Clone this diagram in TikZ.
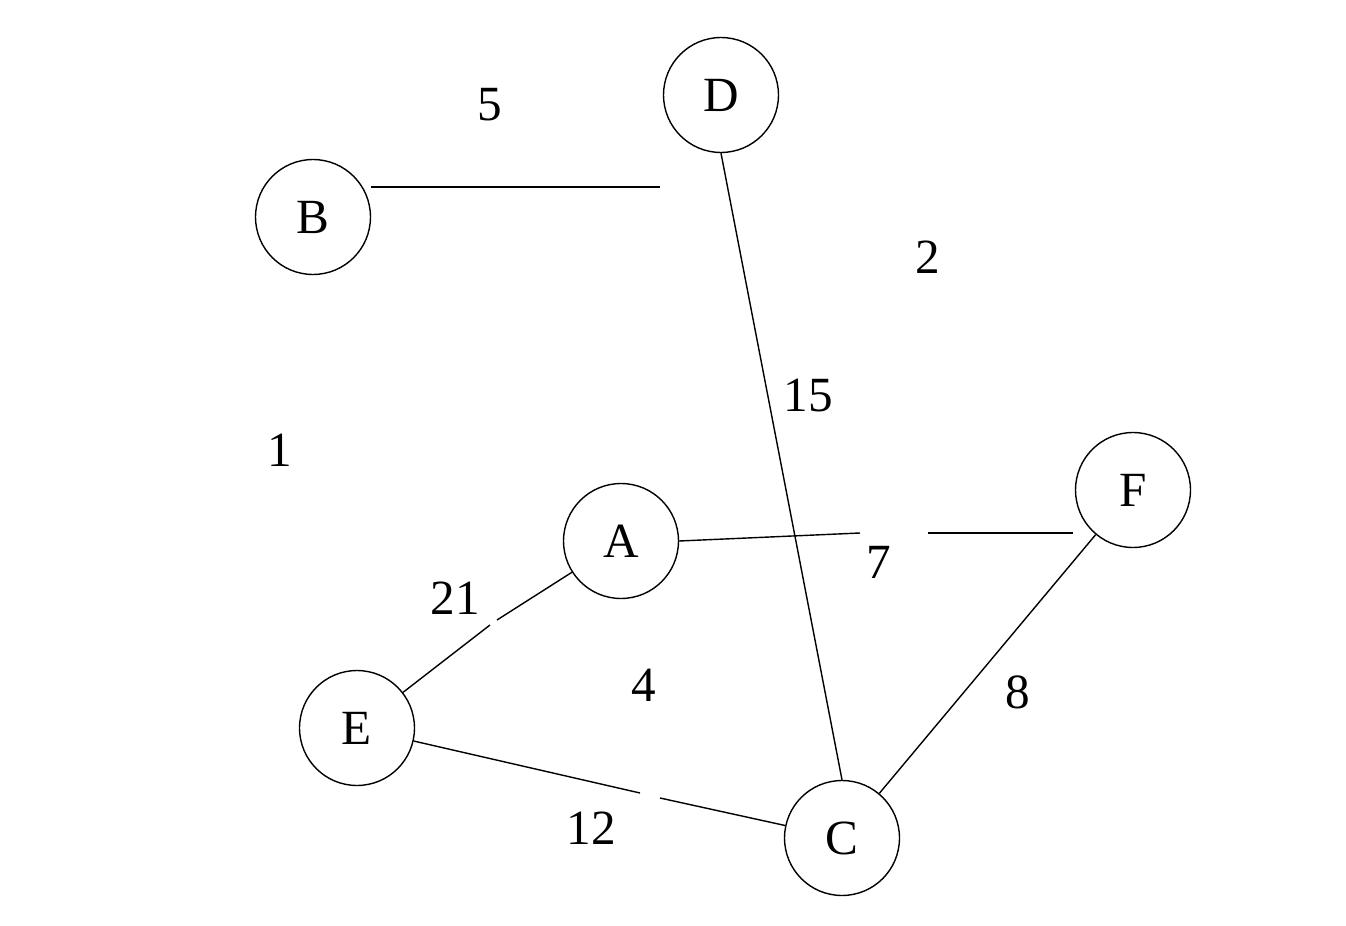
\documentclass[tikz,border=0pt]{standalone}
\usepackage{fontspec}
\setmainfont{Liberation Serif}
\tikzset{vertex/.style = {draw, circle, thick, minimum size=2.3cm, inner sep=0pt, font=\fontsize{28}{30}\selectfont}}
\tikzset{lab/.style = {font=\fontsize{28}{30}\selectfont}}
\tikzset{edge/.style = {thick}}

\begin{document}
\begin{tikzpicture}[x=0.02cm, y=-0.02cm]
\useasboundingbox (0,0) rectangle (1346,926);

\node[vertex] (D) at (721,95) {D};
\node[vertex] (B) at (313,217) {B};
\node[vertex] (A) at (621,541) {A};
\node[vertex] (F) at (1133,490) {F};
\node[vertex] (E) at (357,728) {E};
\node[vertex] (C) at (842,838) {C};

% free ends where the edges break off
\coordinate (bd1) at (371,187);
\coordinate (bd2) at (660,187);
\coordinate (af1) at (860,533);
\coordinate (af2) at (928,533);
\coordinate (fa) at (1073,533);
\coordinate (ea1) at (490,625);
\coordinate (ea2) at (497,620);
\coordinate (ec1) at (640,793);
\coordinate (ec2) at (660,798);

\draw[edge] (bd1) -- (bd2);
\draw[edge] (D.south) -- (C.north);
\draw[edge] (A.east) -- (af1);
\draw[edge] (af2) -- (fa);
\draw[edge] (E) -- (ea1);
\draw[edge] (ea2) -- (A);
\draw[edge] (E) -- (ec1);
\draw[edge] (ec2) -- (C);
\draw[edge] (C) -- (F);

\node[lab] (l5) at (490,105) {5};
\node[lab] (l2) at (928,257) {2};
\node[lab] (l15) at (808,395) {15};
\node[lab] (l1) at (280,450) {1};
\node[lab] (l7) at (879,562) {7};
\node[lab] (l21) at (455,598) {21};
\node[lab] (l4) at (644,685) {4};
\node[lab] (l8) at (1018,692) {8};
\node[lab] (l12) at (591,828) {12};
\end{tikzpicture}
\end{document}
